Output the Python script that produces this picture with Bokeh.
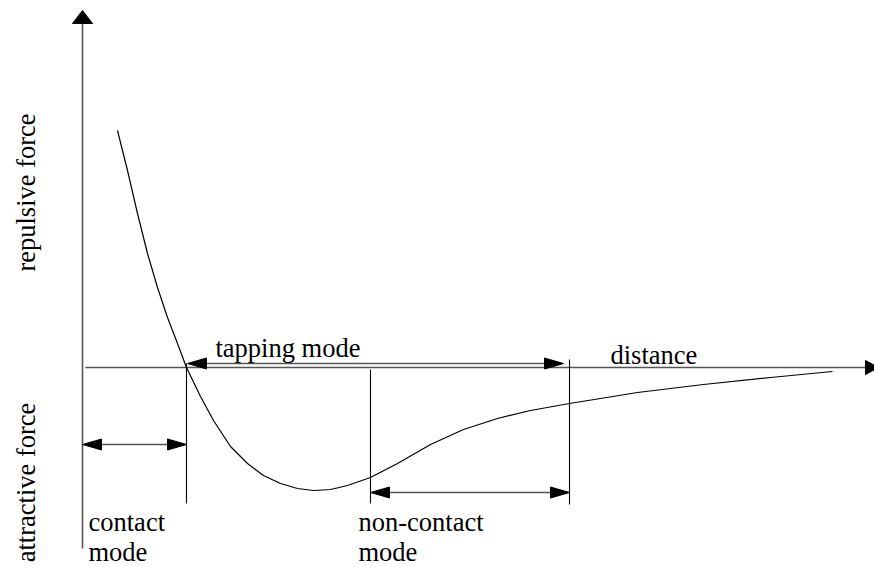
import numpy as np
from bokeh.plotting import figure
from bokeh.models import Range1d
from bokeh.core.properties import value
from bokeh.embed import file_html
from bokeh.resources import INLINE

# ---- data (diagram units: origin at axis crossing, 1 unit ~ 1 px) ----
curve_x = [35, 45, 55, 65, 75, 85, 95, 104, 118, 131, 148, 165, 181, 198, 215,
           231, 248, 265, 288, 315, 348, 381, 415, 448, 487, 555, 621, 688, 750]
curve_y = [237, 197, 154, 114, 80, 50, 24, 0, -29, -53, -79, -96, -108, -116,
           -121, -123, -122, -118, -110, -96, -77, -62, -51, -43, -36, -25, -17, -10, -4]

contact_edge = 104      # end of contact region / start of tapping
noncontact_start = 288  # start of non-contact region
tapping_end = 487       # end of tapping / non-contact region

axis_x = [3, 796]
axis_y = [-181, 357]

tapping_arrow = dict(x0=105, x1=481, y=4)
contact_arrow = dict(x0=0, x1=104, y=-77)
noncontact_arrow = dict(x0=288, x1=487, y=-125)

vlines_x = [contact_edge, noncontact_start, tapping_end]
vlines_top = [4, -2, 8]
vlines_bottom = [-136, -136, -137]

labels = ["tapping mode", "distance", "contact", "mode", "non-contact", "mode"]
labels_x = [133, 528, 6, 6, 276, 276]
labels_y = [20, 13, -154, -184, -154, -184]

ylabels = ["repulsive force", "attractive force"]
ylabels_x = [-57, -57]
ylabels_y = [175, -115]

# ---- figure ----
W, H = 874, 567
p = figure(width=W, height=H, output_backend="svg", toolbar_location=None,
           x_range=Range1d(-82, -82 + W), y_range=Range1d(367 - H, 367),
           min_border=0)
p.axis.visible = False
p.grid.visible = False
p.outline_line_color = None
p.background_fill_color = "white"
p.border_fill_color = "white"

AX = "#555555"
FONT = value("Liberation Serif")
FS = "26.5px"

# axes
p.line([axis_x[0], axis_x[1] - 5], [0, 0], line_color=AX, line_width=1.6)
p.line([0, 0], [axis_y[0], axis_y[1] - 5], line_color=AX, line_width=1.6)

heads_xs, heads_ys = [], []

def head(tx, ty, dx, dy, length, half):
    # triangle with tip (tx,ty) pointing along (dx,dy)
    bx, by = tx - dx * length, ty - dy * length
    px, py = -dy * half, dx * half
    heads_xs.append([tx, bx + px, bx - px])
    heads_ys.append([ty, by + py, by - py])

head(0, axis_y[1], 0, 1, 13, 10)
head(axis_x[1], 0, 1, 0, 13, 7)

# double arrows
for a in (tapping_arrow, contact_arrow, noncontact_arrow):
    p.line([a["x0"] + 5, a["x1"] - 5], [a["y"], a["y"]], line_color=AX, line_width=1.6)
    head(a["x0"], a["y"], -1, 0, 19, 5.5)
    head(a["x1"], a["y"], 1, 0, 19, 5.5)

p.patches(heads_xs, heads_ys, fill_color="black", line_color="black", line_width=1)

# vertical region boundaries
p.segment(x0=vlines_x, y0=vlines_top, x1=vlines_x, y1=vlines_bottom,
          line_color="black", line_width=1.1)

# force curve
p.line(curve_x, curve_y, line_color="black", line_width=1.2, line_join="round")

# labels
p.text(x=labels_x, y=labels_y, text=labels, text_font=FONT, text_font_size=FS,
       text_color="black", text_baseline="alphabetic", text_align="left")
p.text(x=ylabels_x, y=ylabels_y, text=ylabels, angle=np.pi / 2, text_font=FONT,
       text_font_size=FS, text_color="black", text_baseline="alphabetic",
       text_align="center")

open("out.html", "w").write(file_html(p, INLINE))
